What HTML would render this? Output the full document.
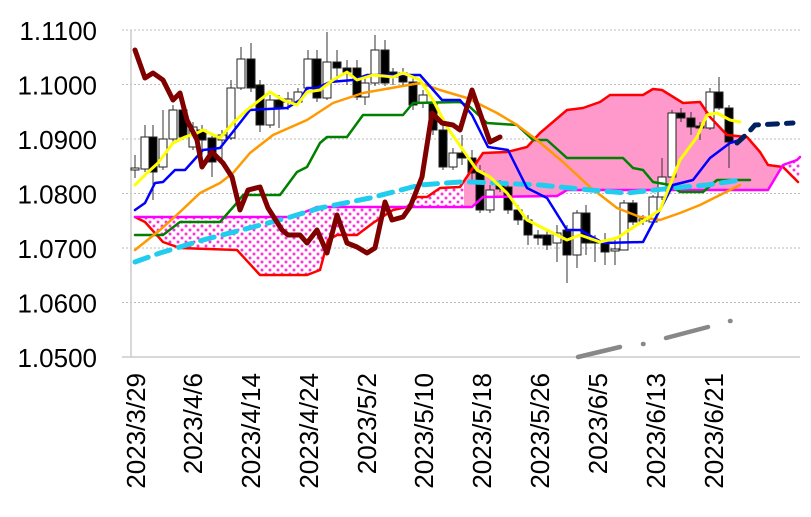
<!DOCTYPE html>
<html><head><meta charset="utf-8"><style>
html,body{margin:0;padding:0;background:#fff;}
svg{display:block;font-family:"Liberation Sans",Arial,sans-serif;}
</style></head><body>
<svg width="811" height="517" viewBox="0 0 811 517" xmlns="http://www.w3.org/2000/svg">
<defs>
<pattern id="dots" width="8" height="8" patternUnits="userSpaceOnUse">
<rect width="8" height="8" fill="#fff"/>
<circle cx="2" cy="2" r="1.5" fill="#ff33dd"/>
<circle cx="6" cy="6" r="1.5" fill="#ff33dd"/>
</pattern>
<clipPath id="cl"><rect x="0" y="0" width="464" height="517"/><rect x="785" y="0" width="30" height="517"/></clipPath>
<clipPath id="cr"><rect x="464" y="0" width="321" height="517"/></clipPath>
</defs>
<g stroke="#bbb" stroke-dasharray="2,2" stroke-width="1">
<line x1="122" y1="30" x2="800" y2="30"/>
<line x1="122" y1="84.5" x2="800" y2="84.5"/>
<line x1="122" y1="139" x2="800" y2="139"/>
<line x1="122" y1="193.5" x2="800" y2="193.5"/>
<line x1="122" y1="248" x2="800" y2="248"/>
<line x1="122" y1="302.5" x2="800" y2="302.5"/>
</g>
<line x1="122" y1="357" x2="800" y2="357" stroke="#ccc" stroke-width="1.5"/>
<line x1="131" y1="30" x2="131" y2="357" stroke="#ccc" stroke-width="1.5"/>
<g font-size="26" text-anchor="end" fill="#000">
<text x="97" y="40">1.1100</text>
<text x="97" y="94.5">1.1000</text>
<text x="97" y="149">1.0900</text>
<text x="97" y="203.5">1.0800</text>
<text x="97" y="258">1.0700</text>
<text x="97" y="312.5">1.0600</text>
<text x="97" y="367">1.0500</text>
</g>
<g font-size="26" text-anchor="end" fill="#000">
<text transform="translate(145,373) rotate(-90)">2023/3/29</text>
<text transform="translate(202,373) rotate(-90)">2023/4/6</text>
<text transform="translate(260,373) rotate(-90)">2023/4/14</text>
<text transform="translate(318,373) rotate(-90)">2023/4/24</text>
<text transform="translate(376,373) rotate(-90)">2023/5/2</text>
<text transform="translate(433,373) rotate(-90)">2023/5/10</text>
<text transform="translate(491,373) rotate(-90)">2023/5/18</text>
<text transform="translate(549,373) rotate(-90)">2023/5/26</text>
<text transform="translate(607,373) rotate(-90)">2023/6/5</text>
<text transform="translate(665,373) rotate(-90)">2023/6/13</text>
<text transform="translate(723,373) rotate(-90)">2023/6/21</text>
</g>
<g>
<polygon clip-path="url(#cl)" fill="url(#dots)" points="135,217 145,222 163,242 180,248 237,250 260,275 307,275 320,270 328,240 337,235 357,235 373,223 393,210 407,207 417,197 427,197 440,188 460,187 483,153 507,152 527,147 540,133 567,110 583,108 600,102 610,95 643,95 653,89 662,90 683,103 700,102 710,117 727,135 747,137 760,152 768,165 783,167 798,182 800,170 800,157 797,160 783,165 768,190 567,190 557,196 483,197 472,207 317,207 293,217"/>
<polygon clip-path="url(#cr)" fill="#ff99cc" points="135,217 145,222 163,242 180,248 237,250 260,275 307,275 320,270 328,240 337,235 357,235 373,223 393,210 407,207 417,197 427,197 440,188 460,187 483,153 507,152 527,147 540,133 567,110 583,108 600,102 610,95 643,95 653,89 662,90 683,103 700,102 710,117 727,135 747,137 760,152 768,165 783,167 798,182 800,170 800,157 797,160 783,165 768,190 567,190 557,196 483,197 472,207 317,207 293,217"/>
</g>
<g stroke="#333" stroke-width="1">
<line x1="135" y1="155" x2="135" y2="178"/><line x1="145" y1="125" x2="145" y2="172"/><line x1="153" y1="125" x2="153" y2="200"/><line x1="163" y1="110" x2="163" y2="170"/><line x1="173" y1="105" x2="173" y2="142"/><line x1="183" y1="100" x2="183" y2="140"/><line x1="193" y1="122" x2="193" y2="150"/><line x1="202" y1="125" x2="202" y2="155"/><line x1="212" y1="135" x2="212" y2="177"/><line x1="222" y1="130" x2="222" y2="160"/><line x1="231" y1="80" x2="231" y2="140"/><line x1="241" y1="47" x2="241" y2="90"/><line x1="251" y1="43" x2="251" y2="92"/><line x1="260" y1="80" x2="260" y2="132"/><line x1="270" y1="95" x2="270" y2="128"/><line x1="279" y1="95" x2="279" y2="128"/><line x1="288" y1="92" x2="288" y2="110"/><line x1="298" y1="88" x2="298" y2="105"/><line x1="308" y1="50" x2="308" y2="90"/><line x1="317" y1="50" x2="317" y2="102"/><line x1="327" y1="32" x2="327" y2="100"/><line x1="337" y1="50" x2="337" y2="80"/><line x1="347" y1="60" x2="347" y2="85"/><line x1="357" y1="60" x2="357" y2="100"/><line x1="365" y1="75" x2="365" y2="105"/><line x1="375" y1="35" x2="375" y2="86"/><line x1="385" y1="40" x2="385" y2="86"/><line x1="393" y1="68" x2="393" y2="85"/><line x1="403" y1="68" x2="403" y2="86"/><line x1="413" y1="78" x2="413" y2="110"/><line x1="423" y1="90" x2="423" y2="108"/><line x1="433" y1="98" x2="433" y2="135"/><line x1="443" y1="125" x2="443" y2="170"/><line x1="453" y1="148" x2="453" y2="170"/><line x1="462" y1="135" x2="462" y2="165"/><line x1="472" y1="150" x2="472" y2="180"/><line x1="480" y1="165" x2="480" y2="213"/><line x1="490" y1="185" x2="490" y2="213"/><line x1="500" y1="180" x2="500" y2="192"/><line x1="508" y1="182" x2="508" y2="214"/><line x1="518" y1="205" x2="518" y2="225"/><line x1="528" y1="215" x2="528" y2="245"/><line x1="538" y1="230" x2="538" y2="245"/><line x1="547" y1="230" x2="547" y2="250"/><line x1="557" y1="225" x2="557" y2="262"/><line x1="567" y1="225" x2="567" y2="283"/><line x1="577" y1="210" x2="577" y2="268"/><line x1="586" y1="205" x2="586" y2="255"/><line x1="595" y1="235" x2="595" y2="262"/><line x1="605" y1="233" x2="605" y2="265"/><line x1="615" y1="238" x2="615" y2="265"/><line x1="624" y1="200" x2="624" y2="250"/><line x1="633" y1="200" x2="633" y2="225"/><line x1="643" y1="215" x2="643" y2="225"/><line x1="653" y1="195" x2="653" y2="225"/><line x1="662" y1="158" x2="662" y2="200"/><line x1="672" y1="110" x2="672" y2="180"/><line x1="681" y1="108" x2="681" y2="122"/><line x1="691" y1="112" x2="691" y2="135"/><line x1="700" y1="122" x2="700" y2="140"/><line x1="710" y1="88" x2="710" y2="130"/><line x1="719" y1="77" x2="719" y2="110"/><line x1="729" y1="105" x2="729" y2="168"/>
</g>
<g stroke="#222" stroke-width="1">
<g fill="#fff">
<rect x="131" y="168" width="8" height="2"/><rect x="141" y="137" width="8" height="32"/><rect x="159" y="139" width="8" height="28"/><rect x="169" y="110" width="8" height="29"/><rect x="189" y="127" width="8" height="20"/><rect x="218" y="135" width="8" height="5"/><rect x="227" y="88" width="8" height="50"/><rect x="237" y="59" width="8" height="29"/><rect x="266" y="100" width="8" height="25"/><rect x="284" y="99" width="8" height="3"/><rect x="294" y="92" width="8" height="10"/><rect x="304" y="59" width="8" height="29"/><rect x="323" y="62" width="8" height="36"/><rect x="361" y="83" width="8" height="14"/><rect x="371" y="50" width="8" height="33"/><rect x="419" y="95" width="8" height="8"/><rect x="449" y="153" width="8" height="14"/><rect x="486" y="190" width="8" height="20"/><rect x="553" y="233" width="8" height="10"/><rect x="573" y="213" width="8" height="42"/><rect x="611" y="249" width="8" height="2"/><rect x="620" y="203" width="8" height="47"/><rect x="639" y="219" width="8" height="2"/><rect x="649" y="197" width="8" height="25"/><rect x="658" y="177" width="8" height="20"/><rect x="668" y="113" width="8" height="64"/><rect x="706" y="92" width="8" height="36"/>
</g>
<g fill="#000">
<rect x="149" y="137" width="8" height="35"/><rect x="179" y="110" width="8" height="27"/><rect x="198" y="130" width="8" height="10"/><rect x="208" y="138" width="8" height="24"/><rect x="247" y="59" width="8" height="29"/><rect x="256" y="85" width="8" height="40"/><rect x="275" y="100" width="8" height="8"/><rect x="313" y="59" width="8" height="39"/><rect x="333" y="62" width="8" height="6"/><rect x="343" y="68" width="8" height="4"/><rect x="353" y="68" width="8" height="29"/><rect x="381" y="50" width="8" height="33"/><rect x="389" y="72" width="8" height="5"/><rect x="399" y="73" width="8" height="9"/><rect x="409" y="82" width="8" height="23"/><rect x="429" y="103" width="8" height="27"/><rect x="439" y="130" width="8" height="37"/><rect x="458" y="153" width="8" height="5"/><rect x="468" y="158" width="8" height="15"/><rect x="476" y="172" width="8" height="38"/><rect x="496" y="186" width="8" height="3"/><rect x="504" y="187" width="8" height="23"/><rect x="514" y="210" width="8" height="10"/><rect x="524" y="220" width="8" height="15"/><rect x="534" y="235" width="8" height="3"/><rect x="543" y="235" width="8" height="10"/><rect x="563" y="230" width="8" height="25"/><rect x="582" y="213" width="8" height="30"/><rect x="591" y="241" width="8" height="2"/><rect x="601" y="243" width="8" height="9"/><rect x="629" y="203" width="8" height="19"/><rect x="677" y="113" width="8" height="5"/><rect x="687" y="118" width="8" height="9"/><rect x="696" y="126" width="8" height="2"/><rect x="715" y="92" width="8" height="16"/><rect x="725" y="108" width="8" height="34"/>
</g>
</g>
<g fill="none" stroke-linejoin="round" stroke-linecap="round">
<polyline stroke="#ff0000" stroke-width="2.5" points="135,217 145,222 163,242 180,248 237,250 260,275 307,275 320,270 328,240 337,235 357,235 373,223 393,210 407,207 417,197 427,197 440,188 460,187 483,153 507,152 527,147 540,133 567,110 583,108 600,102 610,95 643,95 653,89 662,90 683,103 700,102 710,117 727,135 747,137 760,152 768,165 783,167 798,182"/>
<polyline stroke="#ff00ff" stroke-width="2.5" points="135,217 293,217 317,207 472,207 483,197 557,196 567,190 768,190 783,165 797,160 800,157"/>
<polyline stroke="#008000" stroke-width="2.5" points="135,235 163,235 180,222 220,222 235,205 243,195 280,195 297,172 307,167 320,143 327,137 347,137 363,115 403,115 413,103 460,102 470,107 487,123 517,125 533,140 547,140 567,158 623,158 633,168 643,170 653,182 670,185 680,192 703,192 717,180 750,180"/>
<polyline stroke="#ff9900" stroke-width="2.5" points="135,250 160,230 180,212 200,193 220,183 233,173 250,153 273,135 307,120 333,103 363,93 397,87 420,83 440,90 467,98 497,113 517,125 537,140 563,162 590,187 617,208 640,217 660,220 680,213 700,205 720,195 740,185"/>
<polyline stroke="#22ccee" stroke-width="5" stroke-dasharray="14,9" points="135,262 160,253 203,240 253,227 287,218 320,208 370,198 420,185 460,182 473,182 540,185 590,190 627,193 673,188 707,185 740,180"/>
<polyline stroke="#0000ff" stroke-width="2.5" points="135,210 145,203 155,183 163,182 175,170 185,170 203,150 220,148 232,133 250,110 287,108 300,100 307,88 317,88 330,82 353,80 367,75 420,75 442,100 460,100 472,115 488,147 508,150 527,188 547,198 567,230 580,230 603,243 643,242 673,185 693,180 710,158 730,143 740,140"/>
<polyline stroke="#ffff00" stroke-width="3" points="135,185 147,173 158,163 173,143 185,137 197,133 203,130 220,138 233,123 247,110 270,92 283,100 297,105 307,92 320,90 333,80 347,72 357,80 373,75 393,77 403,73 420,80 433,100 447,127 463,150 477,170 490,177 507,193 527,220 547,230 567,240 580,235 600,242 617,238 640,223 660,210 680,160 697,137 707,115 717,113 730,120 740,122"/>
<polyline stroke="#800000" stroke-width="5" points="135,50 145,78 153,73 163,80 173,100 180,93 187,120 197,140 202,167 212,152 223,163 232,177 240,210 248,190 260,187 268,208 282,230 288,235 300,235 307,243 317,230 327,253 337,215 347,243 357,247 367,253 375,248 385,202 392,220 403,217 410,207 422,177 432,113 442,123 453,125 460,130 472,90 490,142 500,137"/>
<polyline stroke="#002060" stroke-width="5" stroke-dasharray="10,9" points="737,143 748,133 755,125 793,123"/>
<g stroke="#888" stroke-width="4.5">
<line x1="578" y1="357" x2="620" y2="347"/>
<line x1="643" y1="344" x2="643.5" y2="344"/>
<line x1="666" y1="338" x2="708" y2="327"/>
<line x1="730" y1="321" x2="730.5" y2="321"/>
</g>
</g>
</svg>
</body></html>
